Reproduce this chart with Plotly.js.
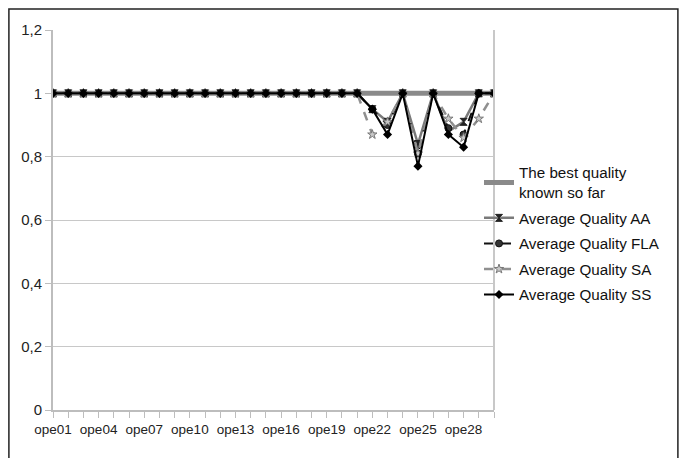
<!DOCTYPE html>
<html><head><meta charset="utf-8">
<script src="https://cdn.plot.ly/plotly-3.0.1.min.js"></script>
<style>html,body{margin:0;padding:0;background:#fff}#c{width:679px;height:458px}</style>
</head><body><div id="c"></div>
<script>
const categories = [];
for (let i = 1; i <= 30; i++) categories.push('ope' + String(i).padStart(2, '0'));
const bestKnown = [1,1,1,1,1,1,1,1,1,1,1,1,1,1,1,1,1,1,1,1,1,1,1,1,1,1,1,1,1,1];
const qualityAA  = [1,1,1,1,1,1,1,1,1,1,1,1,1,1,1,1,1,1,1,1,1,0.95,0.91,1,0.84,1,0.88,0.91,1,1];
const qualityFLA = [1,1,1,1,1,1,1,1,1,1,1,1,1,1,1,1,1,1,1,1,1,0.95,0.90,1,0.81,1,0.89,0.87,1,1];
const qualitySA  = [1,1,1,1,1,1,1,1,1,1,1,1,1,1,1,1,1,1,1,1,1,0.87,0.91,1,0.81,1,0.92,0.86,0.92,1];
const qualitySS  = [1,1,1,1,1,1,1,1,1,1,1,1,1,1,1,1,1,1,1,1,1,0.95,0.87,1,0.77,1,0.87,0.83,1,1];
const tickLabels = categories.map((c, i) => i % 3 === 0 ? c : '');

const FONT = '"Liberation Sans", Arial, sans-serif';
const traces = [
  {x: categories, y: bestKnown, name: 'The best quality<br>known so far', mode: 'lines', legendgroup: 'g0',
   line: {color: '#8a8a8a', width: 5}},
  {x: categories, y: qualityAA, name: 'Average Quality AA', mode: 'lines+markers', legendgroup: 'g1',
   line: {color: '#7a7a7a', width: 2.5}, marker: {symbol: 'hourglass', size: 7, color: '#222', line: {color: '#222', width: 1}}},
  {x: categories, y: qualityFLA, name: 'Average Quality FLA', mode: 'lines+markers', legendgroup: 'g2',
   line: {color: '#111', width: 2, dash: 'dash'}, marker: {symbol: 'circle', size: 7, color: '#333', line: {color: '#111', width: 1}}},
  {x: categories, y: qualitySA, name: 'Average Quality SA', mode: 'lines+markers', legendgroup: 'g3',
   line: {color: '#909090', width: 2.5, dash: 'dash'}, marker: {symbol: 'star', size: 7, color: '#c8c8c8', line: {color: '#777', width: 1}}},
  {x: categories, y: qualitySS, name: 'Average Quality SS', mode: 'lines+markers', legendgroup: 'g4',
   line: {color: '#000', width: 2}, marker: {symbol: 'diamond', size: 7, color: '#000'}}
];
const layout = {
  width: 679, height: 458,
  margin: {l: 53, r: 185, t: 30, b: 48},
  paper_bgcolor: '#fff', plot_bgcolor: '#fff',
  separators: ', ',
  font: {family: FONT, size: 14, color: '#222'},
  showlegend: true,
  legend: {x: 0.966, y: 0.668, xanchor: 'left', yanchor: 'top', font: {family: FONT, size: 15.2, color: '#111'},
           bgcolor: 'rgba(0,0,0,0)', tracegroupgap: 2.8, itemwidth: 30},
  xaxis: {type: 'category', tickmode: 'array', tickvals: categories, ticktext: tickLabels, tickangle: 0,
          range: [0, 29], showgrid: false, showline: true, linecolor: '#bdbdbd', linewidth: 2,
          mirror: false, ticks: 'outside', ticklen: 6, tickcolor: '#bdbdbd', tickwidth: 1,
          tickfont: {family: FONT, size: 13.5, color: '#222'}, zeroline: false, automargin: false},
  yaxis: {range: [0, 1.2], dtick: 0.2, showgrid: true, gridcolor: '#c8c8c8', gridwidth: 1,
          showline: true, linecolor: '#bdbdbd', linewidth: 2, ticks: 'outside', ticklen: 6,
          tickcolor: '#bdbdbd', tickfont: {family: FONT, size: 15, color: '#222'}, zeroline: false, automargin: false},
  shapes: [
    {type: 'line', xref: 'paper', yref: 'paper', x0: 1, x1: 1, y0: 0, y1: 1, line: {color: '#c8c8c8', width: 2}},
    {type: 'rect', xref: 'paper', yref: 'paper', x0: -0.1, x1: 1.417, y0: -0.2, y1: 1.055, line: {color: '#222', width: 1.5}, fillcolor: 'rgba(0,0,0,0)', layer: 'below'}
  ]
};
Plotly.newPlot('c', traces, layout, {displayModeBar: false, staticPlot: true});
</script></body></html>
